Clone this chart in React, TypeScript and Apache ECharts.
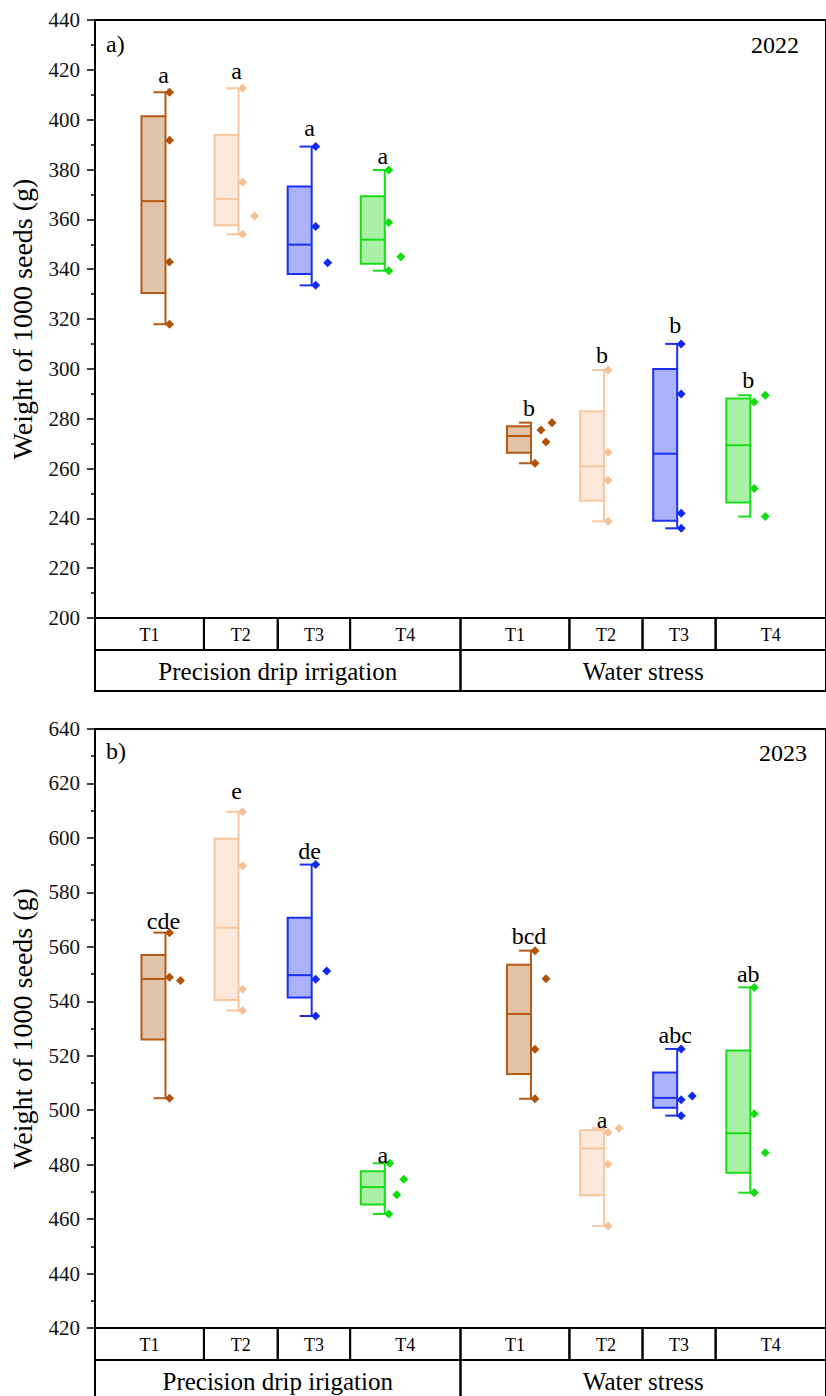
import React, { useEffect, useRef } from 'react';
import * as echarts from 'echarts';

// ---------- data ----------
const TREATMENTS = ['T1', 'T2', 'T3', 'T4'];
const GROUPS_2022 = ['Precision drip irrigation', 'Water stress'];
const GROUPS_2023 = ['Precision drip irigation', 'Water stress'];
// box positions on the (hidden) x value axis: PDI T1..T4, gap, WS T1..T4
const POSITIONS = [1, 2, 3, 4, 6, 7, 8, 9];
// edges of the label-table cells on the same x axis
const CELL_EDGES = [0.2, 1.69, 2.7, 3.69, 5.2, 6.69, 7.69, 8.69, 10.2];
const GROUP_EDGES = [0.2, 5.2, 10.2];

const Y_TICKS_2022 = { min: 200, max: 440, interval: 20 };
const Y_TICKS_2023 = { min: 420, max: 640, interval: 20 };

// individual observations (g), 4 replicates per treatment
const POINTS_2022 = [
  [411.0, 391.7, 342.9, 317.9],
  [412.6, 375.0, 361.3, 354.0],
  [389.2, 357.1, 342.6, 333.5],
  [379.8, 358.7, 345.0, 339.4],
  [278.4, 275.5, 270.6, 262.1],
  [299.5, 266.4, 255.3, 238.8],
  [310.0, 289.9, 242.0, 236.0],
  [289.4, 286.7, 252.0, 240.7],
];
const POINTS_2023 = [
  [565.2, 548.8, 547.6, 504.4],
  [609.6, 589.7, 544.4, 536.6],
  [590.2, 551.1, 548.1, 534.6],
  [480.5, 474.6, 468.9, 461.9],
  [558.6, 548.3, 522.4, 504.2],
  [493.4, 491.8, 480.1, 457.5],
  [522.5, 505.2, 503.8, 498.0],
  [545.1, 498.7, 484.4, 469.7],
];
const LETTERS_2022 = ['a', 'a', 'a', 'a', 'b', 'b', 'b', 'b'];
const LETTERS_2023 = ['cde', 'e', 'de', 'a', 'bcd', 'a', 'abc', 'ab'];
// baseline value of each significance letter
const LETTER_Y_2022 = [415.2, 416.6, 393.8, 382.7, 281.5, 302.9, 314.9, 292.8];
const LETTER_Y_2023 = [566.9, 614.7, 592.6, 481.1, 561.4, 494.0, 525.2, 547.5];

// ---------- style ----------
// horizontal jitter (px from box centre) of each point
const JITTER_2022 = [
  [16, 16, 16, 16], [16, 16, 28, 16], [16, 16, 28, 16], [16, 16, 28, 16],
  [33, 22, 27, 16], [16, 16, 16, 16], [16, 16, 16, 16], [27, 16, 16, 27],
];
const JITTER_2023 = [
  [16, 16, 27, 16], [16, 16, 16, 16], [16, 27, 16, 16], [17, 31, 24, 16],
  [16, 27, 16, 16], [27, 16, 16, 16], [16, 27, 16, 16], [16, 16, 27, 16],
];
const COLORS = [
  { stroke: '#B35A16', fill: '#E2C4AA', point: '#AE520C' },
  { stroke: '#F8C69E', fill: '#FBE8DA', point: '#F6C096' },
  { stroke: '#1A30F5', fill: '#AAB2FA', point: '#1028F2' },
  { stroke: '#18DC18', fill: '#A9F2A5', point: '#10DD10' },
];
const SERIF = "'Liberation Serif', 'Times New Roman', serif";
const BOX_HALF = 12;
const DIAMOND = 4.5;
const LETTER_DX = 10;
const ROW1 = 32;
const ROW2 = 41;

function median(a: number[]) {
  const n = a.length;
  return n % 2 ? a[(n - 1) / 2] : (a[n / 2 - 1] + a[n / 2]) / 2;
}
function boxStats(vals: number[]) {
  const s = [...vals].sort((x, y) => x - y);
  const n = s.length;
  const lower = s.slice(0, Math.floor(n / 2));
  const upper = s.slice(Math.ceil(n / 2));
  return [s[0], median(lower), median(s), median(upper), s[n - 1]];
}

const PANELS = [
  {
    top: 20, height: 598, ticks: Y_TICKS_2022, points: POINTS_2022, jitter: JITTER_2022,
    letters: LETTERS_2022, letterY: LETTER_Y_2022, groups: GROUPS_2022,
    tag: 'a)', year: '2022', tagY: 45, yearY: 47, yearRight: 799,
  },
  {
    top: 729, height: 599, ticks: Y_TICKS_2023, points: POINTS_2023, jitter: JITTER_2023,
    letters: LETTERS_2023, letterY: LETTER_Y_2023, groups: GROUPS_2023,
    tag: 'b)', year: '2023', tagY: 752, yearY: 755, yearRight: 807,
  },
];

function buildOption() {
  const grid: any[] = [];
  const xAxis: any[] = [];
  const yAxis: any[] = [];
  const series: any[] = [];
  const graphic: any[] = [];

  PANELS.forEach((pn, p) => {
    grid.push({
      left: 90, top: pn.top, width: 750, height: pn.height,
      show: true, borderColor: '#000', borderWidth: 2, backgroundColor: 'transparent',
    });
    xAxis.push({ gridIndex: p, type: 'value', min: 0.2, max: 10.2, show: false });
    yAxis.push({
      gridIndex: p, type: 'value', min: pn.ticks.min, max: pn.ticks.max, interval: pn.ticks.interval,
      name: 'Weight of 1000 seeds (g)', nameLocation: 'middle', nameGap: 59,
      nameTextStyle: { fontFamily: SERIF, fontSize: 28, color: '#000' },
      axisLine: { show: true, onZero: false, lineStyle: { color: '#000', width: 2 } },
      axisTick: { show: true, inside: false, length: 8, lineStyle: { color: '#000', width: 1.5 } },
      minorTick: { show: true, splitNumber: 2, length: 4, lineStyle: { color: '#000', width: 1.5 } },
      splitLine: { show: false },
      axisLabel: { fontFamily: SERIF, fontSize: 21, color: '#111', margin: 15 },
    });

    const yMinVal = pn.ticks.min;

    // boxes, whiskers, points, letters
    series.push({
      type: 'custom', coordinateSystem: 'cartesian2d', xAxisIndex: p, yAxisIndex: p, silent: true,
      data: POSITIONS.map((k, i) => [k, ...boxStats(pn.points[i]), pn.letterY[i]]),
      renderItem: (params: any, api: any) => {
        const i = params.dataIndex;
        const c = COLORS[i % 4];
        const k = api.value(0);
        const P = (v: number) => api.coord([k, v]);
        const [cx, yMin] = P(api.value(1));
        const yQ1 = P(api.value(2))[1];
        const yMed = P(api.value(3))[1];
        const yQ3 = P(api.value(4))[1];
        const yMax = P(api.value(5))[1];
        const wx = cx + BOX_HALF;
        const ls = { stroke: c.stroke, lineWidth: 2 };
        const children: any[] = [
          { type: 'rect', shape: { x: cx - BOX_HALF, y: yQ3, width: 2 * BOX_HALF, height: yQ1 - yQ3 }, style: { fill: c.fill, stroke: c.stroke, lineWidth: 2 } },
          { type: 'line', shape: { x1: cx - BOX_HALF, y1: yMed, x2: wx, y2: yMed }, style: ls },
          { type: 'line', shape: { x1: wx, y1: yMax, x2: wx, y2: yQ3 }, style: ls },
          { type: 'line', shape: { x1: wx, y1: yQ1, x2: wx, y2: yMin }, style: ls },
          { type: 'line', shape: { x1: cx, y1: yMax, x2: wx + 1, y2: yMax }, style: ls },
          { type: 'line', shape: { x1: cx, y1: yMin, x2: wx + 1, y2: yMin }, style: ls },
        ];
        pn.points[i].forEach((v: number, j: number) => {
          const py = P(v)[1];
          const px = cx + pn.jitter[i][j];
          children.push({
            type: 'polygon',
            shape: { points: [[px, py - DIAMOND], [px + DIAMOND, py], [px, py + DIAMOND], [px - DIAMOND, py]] },
            style: { fill: c.point },
          });
        });
        const ly = P(api.value(6))[1];
        children.push({
          type: 'text', x: cx + LETTER_DX, y: ly + 5,
          style: {
            text: pn.letters[i], fill: '#000', fontFamily: SERIF, fontSize: 24,
            align: 'center', textAlign: 'center', verticalAlign: 'bottom', textVerticalAlign: 'bottom',
          },
        });
        return { type: 'group', children };
      },
    });

    // label table under the plot
    const cells: any[] = [];
    const cellText: string[] = [];
    for (let i = 0; i < POSITIONS.length; i++) {
      cells.push([CELL_EDGES[i], CELL_EDGES[i + 1], 0]);
      cellText.push(TREATMENTS[i % 4]);
    }
    for (let j = 0; j < pn.groups.length; j++) {
      cells.push([GROUP_EDGES[j], GROUP_EDGES[j + 1], 1]);
      cellText.push(pn.groups[j]);
    }
    series.push({
      type: 'custom', coordinateSystem: 'cartesian2d', xAxisIndex: p, yAxisIndex: p, silent: true, clip: false,
      data: cells,
      renderItem: (params: any, api: any) => {
        const [x0, yb] = api.coord([api.value(0), yMinVal]);
        const x1 = api.coord([api.value(1), yMinVal])[0];
        const row = api.value(2);
        const top = row === 0 ? yb : yb + ROW1;
        const h = row === 0 ? ROW1 : ROW2;
        return {
          type: 'group',
          children: [
            { type: 'rect', shape: { x: x0, y: top, width: x1 - x0, height: h }, style: { fill: 'none', stroke: '#000', lineWidth: 2 } },
            {
              type: 'text', x: (x0 + x1) / 2, y: top + h / 2 + 1,
              style: {
                text: cellText[params.dataIndex], fill: '#000', fontFamily: SERIF, fontSize: row === 0 ? 18 : 25,
                align: 'center', textAlign: 'center', verticalAlign: 'middle', textVerticalAlign: 'middle',
              },
            },
          ],
        };
      },
    });

    graphic.push({
      type: 'text', left: 106, top: pn.tagY - 13,
      style: { text: pn.tag, fill: '#000', fontFamily: SERIF, fontSize: 24 },
    });
    graphic.push({
      type: 'text', right: 826 - pn.yearRight, top: pn.yearY - 14,
      style: { text: pn.year, fill: '#000', fontFamily: SERIF, fontSize: 24 },
    });
  });

  return { animation: false, grid, xAxis, yAxis, series, graphic };
}

export default function App() {
  const ref = useRef<HTMLDivElement>(null);
  useEffect(() => {
    document.body.style.margin = '0';
    if (!ref.current) return;
    const chart = echarts.init(ref.current, undefined, { renderer: 'svg' });
    chart.setOption(buildOption() as any);
    return () => chart.dispose();
  }, []);
  return <div ref={ref} style={{ width: 826, height: 1396, overflow: 'hidden' }} />;
}
